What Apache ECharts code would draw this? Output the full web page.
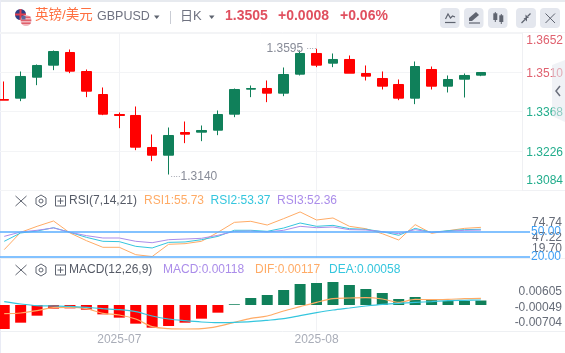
<!DOCTYPE html>
<html>
	<head>
		<meta charset="UTF-8">
		<title>英镑/美元 GBPUSD</title>
		<script src="https://cdn.jsdelivr.net/npm/echarts@6/dist/echarts.min.js"></script>
		<style>
			html, body { margin: 0; padding: 0; background: #fff; }
			#main { width: 565px; height: 353px; }
		</style>
	</head>
	<body>
		<div id="main"></div>
		<script type="text/javascript">
			// 32 slots, the last two stay empty on the right of the chart
			var categories = ['','','','','','','','2025-07','','','','','','','','','','','','2025-08','','','','','','','','','','','',''];

			var opens  = [1.34114,1.34163,1.34922,1.35357,1.35815,1.35127,1.34295,1.33572,1.33536,1.32378,1.32100,1.32920,1.32933,1.33005,1.33584,1.34488,1.34513,1.34344,1.35031,1.35779,1.35429,1.35562,1.35055,1.34874,1.34657,1.34163,1.35200,1.34597,1.34850,1.34995];
			var closes = [1.34090,1.34947,1.35345,1.35851,1.35140,1.34416,1.33584,1.33536,1.32390,1.32100,1.32812,1.32860,1.32993,1.33572,1.34476,1.34512,1.34344,1.35019,1.35779,1.35357,1.35562,1.35067,1.34959,1.34597,1.34163,1.35308,1.34597,1.34838,1.34983,1.35091];
			var lows   = [1.34090,1.34054,1.34633,1.35176,1.35067,1.34199,1.33548,1.33077,1.32281,1.31883,1.31400,1.32535,1.32607,1.32824,1.33475,1.34199,1.34018,1.34235,1.34983,1.35284,1.35284,1.35067,1.34802,1.34476,1.34090,1.33946,1.34476,1.34368,1.34187,1.34959];
			var highs  = [1.34766,1.35127,1.35381,1.35887,1.35923,1.35200,1.34549,1.33644,1.33861,1.32848,1.33101,1.33318,1.33174,1.33716,1.34512,1.34621,1.34802,1.35272,1.35890,1.35950,1.35779,1.35706,1.35345,1.35128,1.34838,1.35489,1.35308,1.34983,1.35055,1.35091];

			var rsi1 = [28.2,49.6,57.0,63.6,48.8,39.3,31.1,31.1,22.0,19.7,34.8,35.6,38.5,49.6,61.9,63.2,58.6,66.5,74.74,64.8,67.3,57.0,54.1,47.9,40.1,59.1,48.3,51.6,54.5,55.73];
			var rsi2 = [38.5,48.8,51.2,55.3,49.6,43.4,38.5,38.1,32.3,30.3,37.2,37.7,40.5,44.6,52.1,52.1,50.8,54.9,61.1,57.0,58.2,54.1,53.3,50.4,45.9,54.5,49.6,51.6,52.9,53.37];
			var rsi3 = [44.6,50.0,52.1,55.0,49.6,45.5,42.6,42.6,38.5,36.8,40.5,41.3,42.2,45.9,50.8,51.2,50.0,52.1,57.0,55.3,56.2,52.9,52.5,50.4,47.9,52.9,49.6,50.8,52.1,52.36];
			var rsiLevels = [50, 20];

			var macdBars = [-0.00631,-0.00465,-0.00281,-0.00096,-0.00088,-0.00123,-0.00246,-0.00333,-0.00491,-0.00596,-0.00553,-0.00465,-0.00360,-0.00202,0.00020,0.00184,0.00263,0.00395,0.00553,0.00579,0.00605,0.00526,0.00421,0.00316,0.00158,0.00210,0.00132,0.00105,0.00105,0.00118];
			var dif = [-0.00228,-0.00210,-0.00149,-0.00070,-0.00061,-0.00096,-0.00219,-0.00263,-0.00368,-0.00570,-0.00623,-0.00631,-0.00623,-0.00561,-0.00456,-0.00351,-0.00289,-0.00158,-0.00044,0.00070,0.00167,0.00184,0.00193,0.00158,0.00070,0.00149,0.00140,0.00149,0.00167,0.00175];
			var dea = [0.00088,0.00026,-0.00018,-0.00026,-0.00035,-0.00061,-0.00096,-0.00123,-0.00175,-0.00289,-0.00368,-0.00412,-0.00447,-0.00465,-0.00456,-0.00439,-0.00403,-0.00360,-0.00281,-0.00202,-0.00132,-0.00079,-0.00026,0.00018,0.00044,0.00070,0.00088,0.00114,0.00123,0.00132];

			var lastPrice = 1.3505;
			var mainTicks = [1.3084, 1.3226, 1.3368, 1.3510, 1.3652];
			var mainTickLabels = ['1.3084', '1.3226', '1.3368', '1.3510', '1.3652'];
			var rsiTickLabels = ['19.70', '74.74', '47.22'];
			var macdTickLabels = ['-0.00704', '-0.00049', '0.00605'];

			// the labels are squeezed inwards in the original, so they do not sit on their own values
			var mainLabelAt = [1.3118, 1.3219, 1.3364, 1.3506, 1.3624];
			// this order, or echarts drops one of the two close labels at the ends of the list
			var rsiLabelAt = [29, 61.5, 43];
			var macdLabelAt = [-0.00455, -0.00071, 0.0035];

			var RED = '#ff0000', GREEN = '#10805a';
			var ORANGE = '#ffab66', CYAN = '#35c6de', PURPLE = '#ab8dea';
			var FONT = '"Liberation Sans", "Noto Sans CJK SC", sans-serif';
			var ICON = '#5f6470';

			function text(x, y, s, color, size, weight, align) {
				return {
					type: 'text', x: x, y: y, z: 50, silent: true,
					style: {
						text: s, fill: color, align: align || 'left', verticalAlign: 'middle',
						font: (weight || 'normal') + ' ' + (size || 12) + 'px ' + FONT
					}
				};
			}
			function line(x1, y1, x2, y2, color, w) {
				return { type: 'line', silent: true, shape: { x1: x1, y1: y1, x2: x2, y2: y2 }, style: { stroke: color, lineWidth: w || 1 } };
			}
			function poly(points, color) {
				return { type: 'polygon', silent: true, shape: { points: points }, style: { fill: color } };
			}
			function rect(x, y, w, h, color, r) {
				return { type: 'rect', silent: true, shape: { x: x, y: y, width: w, height: h, r: r || 0 }, style: { fill: color } };
			}
			function circle(cx, cy, r, fill, stroke) {
				return { type: 'circle', silent: true, shape: { cx: cx, cy: cy, r: r }, style: { fill: fill, stroke: stroke, lineWidth: 1 } };
			}

			// close / settings / collapse icons in front of each indicator name
			function rowIcons(cy) {
				return [
					line(15.5, cy - 5, 26.5, cy + 5, ICON), line(26.5, cy - 5, 15.5, cy + 5, ICON),
					{ type: 'polygon', silent: true, shape: { points: [[41, cy - 6], [46, cy - 3], [46, cy + 3], [41, cy + 6], [36, cy + 3], [36, cy - 3]] }, style: { fill: 'none', stroke: ICON, lineWidth: 1 } },
					circle(41, cy, 2, 'none', ICON),
					{ type: 'rect', silent: true, shape: { x: 55.5, y: cy - 5, width: 10, height: 10 }, style: { fill: 'none', stroke: ICON, lineWidth: 1 } },
					line(57.5, cy, 63.5, cy, ICON), line(60.5, cy - 3, 60.5, cy + 3, ICON)
				];
			}

			var BTN = '#e4e7ee';
			var elements = [
				rect(0, 0, 565, 2, '#e7eaef'),
				rect(0, 0, 1, 353, '#e9ebf5'),
				line(0, 32.5, 565, 32.5, '#f3f4f6'),
				line(0, 190.5, 565, 190.5, '#f0f1f4'),
				line(0, 258.5, 565, 258.5, '#f0f1f4'),
				line(0, 331.5, 565, 331.5, '#eef0f3'),

				// flags
				circle(20.5, 14.5, 5.5, '#2f3f86'),
				line(20.5, 9, 20.5, 20, '#e0404f', 2), line(15, 14.5, 26, 14.5, '#e0404f', 2),
				circle(26, 20.5, 5.5, '#f0b8be'),
				rect(21.5, 16.5, 9, 1.5, '#e0606c'), rect(20.8, 19.5, 10.4, 1.5, '#e0606c'), rect(21.5, 22.5, 9, 1.5, '#e0606c'),
				rect(21.5, 16, 4, 3.5, '#5a6aa0'),

				text(35, 15, '英镑/美元', '#ff6f40', 13.5),
				text(97, 16.5, 'GBPUSD', '#6f7280', 12.5),
				poly([[154, 15.5], [159.5, 15.5], [156.7, 19]], ICON),
				line(170.5, 11, 170.5, 24, '#c9ccd4'),
				text(180, 16, '日K', '#6f7280', 13),
				poly([[209, 15.5], [214.5, 15.5], [211.7, 19]], ICON),
				text(225, 16.5, '1.3505', '#e0505f', 14, 'bold'),
				text(278, 16.5, '+0.0008', '#e0505f', 14, 'bold'),
				text(340, 16.5, '+0.06%', '#e0505f', 14, 'bold'),

				// toolbar buttons
				rect(440, 8, 19.5, 20, BTN, 4), rect(464, 8, 19.5, 20, BTN, 4), rect(488, 8, 19.5, 20, BTN, 4), rect(516, 8, 20, 20, BTN, 4), rect(540, 8, 20, 20, BTN, 4),
				{ type: 'polyline', silent: true, shape: { points: [[445.5, 19], [448, 14], [450.5, 18], [452.5, 16], [455, 17]] }, style: { stroke: ICON, fill: 'none', lineWidth: 1.2 } },
				line(445, 22.5, 455.5, 22.5, ICON, 1.2),
				poly([[469, 21], [469, 18], [476, 12], [479, 15], [472, 21]], ICON),
				line(469, 23, 480, 23, ICON, 1.2),
				rect(493.3, 13.3, 4, 6.7, ICON), line(495.3, 12, 495.3, 22, ICON),
				rect(499.3, 15.3, 4, 6.7, ICON), line(501.3, 14, 501.3, 24, ICON),
				line(521.5, 23, 525, 19.5, ICON, 1.2), poly([[523.5, 18], [527, 18], [527, 21.5]], ICON),
				line(530.5, 13.5, 527.5, 16.5, ICON, 1.2), poly([[525.5, 14.5], [525.5, 18], [529, 18]], ICON),
				line(545.5, 13.5, 555, 23, ICON), line(555, 13.5, 545.5, 23, ICON),

				text(69, 201, 'RSI(7,14,21)', '#555a66', 12),
				text(144, 201, 'RSI1:55.73', ORANGE, 12),
				text(210.5, 201, 'RSI2:53.37', CYAN, 12),
				text(277, 201, 'RSI3:52.36', PURPLE, 12),

				text(69, 270, 'MACD(12,26,9)', '#555a66', 12),
				text(163, 270, 'MACD:0.00118', PURPLE, 12),
				text(255, 270, 'DIF:0.00117', ORANGE, 12),
				text(329, 270, 'DEA:0.00058', CYAN, 12)
			].concat(rowIcons(201), rowIcons(270));

			// collapse handle, it lies over the price labels
			var handle = poly([[552, 65], [565, 60], [565, 122], [552, 116]], 'rgba(228,231,238,0.55)');
			handle.z = 100;
			var chevron = { type: 'polyline', silent: true, z: 101, shape: { points: [[560, 86], [556, 91], [560, 96]] }, style: { stroke: '#6a6f7c', fill: 'none', lineWidth: 1.5 } };
			elements.push(handle, chevron);

			function monthOnly(index, value) {
				return value !== '';
			}
			function xAxisFor(gridIndex, showLabel) {
				return {
					type: 'category', gridIndex: gridIndex, data: categories,
					axisLine: { show: false },
					axisTick: { show: false },
					axisLabel: { show: showLabel, interval: monthOnly, color: '#a9adb8', fontSize: 12, fontFamily: FONT, margin: 3 },
					splitLine: { show: true, alignWithLabel: true, interval: monthOnly, lineStyle: { color: '#f1f2f5', width: 1 } }
				};
			}
			function labelFrom(pos, texts, value) {
				return texts[pos.indexOf(+value)];
			}

			var myChart = echarts.init(document.getElementById('main'));
			myChart.setOption({
				animation: false,
				backgroundColor: '#fff',
				graphic: { elements: elements },
				// first candle is cut by the left edge, so the grids start outside the canvas
				grid: [
					{ left: -4, width: 526, top: 33, height: 157, outerBoundsMode: 'none' },
					{ left: -4, width: 526, top: 191, height: 67, outerBoundsMode: 'none' },
					{ left: -4, width: 526, top: 263, height: 68, outerBoundsMode: 'none' }
				],
				xAxis: [xAxisFor(0, false), xAxisFor(1, false), xAxisFor(2, true)],
				yAxis: [
					{
						type: 'value', gridIndex: 0, position: 'right', scale: true, min: 1.3084, max: 1.3652,
						axisLine: { show: true, lineStyle: { color: '#eff0f3' } },
						axisTick: { show: false, customValues: mainTicks },
						splitLine: { show: true, lineStyle: { color: '#f3f4f6', width: 1 } },
						axisLabel: {
							customValues: mainLabelAt, showMinLabel: true, showMaxLabel: true, align: 'right', margin: 41, fontSize: 12, fontFamily: FONT,
							formatter: function (v) { return labelFrom(mainLabelAt, mainTickLabels, v); },
							color: function (v) {
								return parseFloat(labelFrom(mainLabelAt, mainTickLabels, v)) > lastPrice ? '#e0616f' : '#22ad8c';
							}
						}
					},
					{
						type: 'value', gridIndex: 1, position: 'right', min: 17.9, max: 100.6,
						axisLine: { show: false }, axisTick: { show: false }, splitLine: { show: false },
						axisLabel: {
							customValues: rsiLabelAt, showMinLabel: true, showMaxLabel: true, align: 'right', margin: 40, fontSize: 12, lineHeight: 10, fontFamily: FONT, color: '#666c78',
							formatter: function (v) { return labelFrom(rsiLabelAt, rsiTickLabels, v); }
						}
					},
					{
						type: 'value', gridIndex: 2, position: 'right', min: -0.00684, max: 0.01105,
						axisLine: { show: false }, axisTick: { show: false }, splitLine: { show: false },
						axisLabel: {
							customValues: macdLabelAt, showMinLabel: true, showMaxLabel: true, align: 'right', margin: 40, fontSize: 12, lineHeight: 10, fontFamily: FONT, color: '#666c78',
							formatter: function (v) { return labelFrom(macdLabelAt, macdTickLabels, v); }
						}
					}
				],
				series: [
					{
						type: 'candlestick', xAxisIndex: 0, yAxisIndex: 0, barWidth: 10,
						data: opens.map(function (o, i) { return [o, closes[i], lows[i], highs[i]]; }),
						itemStyle: { color: GREEN, color0: RED, borderColor: GREEN, borderColor0: RED, borderWidth: 1 },
						markPoint: {
							symbol: 'circle', symbolSize: 0, silent: true,
							label: {
								color: '#888c98', fontSize: 12, fontFamily: FONT,
								rich: { d: { fontSize: 7.5, color: '#888c98' } }
							},
							data: [
								{ coord: [19, 1.3595], label: { position: 'left', distance: 0, formatter: '1.3595 {d|····}' } },
								{ coord: [10, 1.3140], label: { position: 'right', distance: 2, offset: [0, 2], formatter: '{d|····}1.3140' } }
							]
						}
					},
					{
						type: 'line', name: 'RSI1', xAxisIndex: 1, yAxisIndex: 1, data: rsi1, symbol: 'none',
						lineStyle: { color: ORANGE, width: 1 }
					},
					{
						type: 'line', name: 'RSI2', xAxisIndex: 1, yAxisIndex: 1, data: rsi2, symbol: 'none',
						lineStyle: { color: CYAN, width: 1 }
					},
					{
						type: 'line', name: 'RSI3', xAxisIndex: 1, yAxisIndex: 1, data: rsi3, symbol: 'none',
						lineStyle: { color: PURPLE, width: 1 },
						markLine: {
							silent: true, symbol: 'none', animation: false,
							lineStyle: { color: '#5aaeff', width: 1.5, type: 'solid' },
							label: { position: 'end', distance: 1, padding: [2, 0, 0, 0], color: '#3fa0f5', fontSize: 12, fontFamily: FONT },
							data: rsiLevels.map(function (v) {
								return [{ yAxis: v, x: 0, label: { formatter: v.toFixed(2) } }, { yAxis: v, x: 530 }];
							})
						}
					},
					{
						type: 'bar', name: 'MACD', xAxisIndex: 2, yAxisIndex: 2, barWidth: 11,
						data: macdBars,
						itemStyle: { color: function (p) { return p.value >= 0 ? GREEN : RED; } }
					},
					{
						type: 'line', name: 'DIF', xAxisIndex: 2, yAxisIndex: 2, data: dif, symbol: 'none', smooth: 0.3,
						lineStyle: { color: ORANGE, width: 1.2 }
					},
					{
						type: 'line', name: 'DEA', xAxisIndex: 2, yAxisIndex: 2, data: dea, symbol: 'none', smooth: 0.3,
						lineStyle: { color: CYAN, width: 1.2 }
					}
				]
			});
		</script>
	</body>
</html>
